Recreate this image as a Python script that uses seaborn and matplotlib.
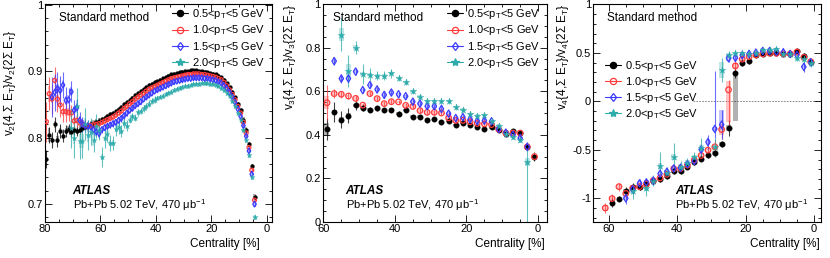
import numpy as np
import matplotlib
matplotlib.use("Agg")
import matplotlib.pyplot as plt
import seaborn as sns
from matplotlib.lines import Line2D
from matplotlib.ticker import MultipleLocator, FuncFormatter

nan = np.nan

# ---------------- data ----------------
labels = [r"0.5<p$_{\mathrm{T}}$<5 GeV", r"1.0<p$_{\mathrm{T}}$<5 GeV",
          r"1.5<p$_{\mathrm{T}}$<5 GeV", r"2.0<p$_{\mathrm{T}}$<5 GeV"]

# panel 1 : v2 ratio, 1% centrality bins (79.5 ... 4.5)
cent1 = np.arange(79.5, 4.0, -1.0)
v2_black = [0.768, 0.804, 0.797, 0.820, 0.797, 0.810, 0.803, 0.810, 0.813, 0.809,
            0.811, 0.810, 0.812, 0.815, 0.816, 0.818, 0.820, 0.821, 0.823, 0.825,
            0.828, 0.830, 0.832, 0.835, 0.837, 0.840, 0.843, 0.846, 0.850, 0.853,
            0.857, 0.860, 0.864, 0.867, 0.870, 0.873, 0.876, 0.879, 0.881, 0.883,
            0.885, 0.887, 0.889, 0.891, 0.893, 0.895, 0.896, 0.897, 0.898, 0.899,
            0.900, 0.900, 0.901, 0.901, 0.901, 0.900, 0.900, 0.899, 0.898, 0.897,
            0.896, 0.895, 0.893, 0.891, 0.887, 0.882, 0.876, 0.869, 0.861, 0.851,
            0.841, 0.827, 0.812, 0.790, 0.757, 0.711]
v2_red = [0.824, 0.866, 0.858, 0.886, 0.858, 0.849, 0.839, 0.839, 0.838, 0.837,
          0.825, 0.826, 0.822, 0.820, 0.818, 0.817, 0.818, 0.819, 0.820, 0.821,
          0.823, 0.825, 0.827, 0.829, 0.831, 0.834, 0.837, 0.840, 0.844, 0.847,
          0.851, 0.854, 0.858, 0.861, 0.864, 0.867, 0.870, 0.873, 0.875, 0.877,
          0.879, 0.881, 0.883, 0.885, 0.887, 0.889, 0.890, 0.891, 0.892, 0.893,
          0.894, 0.895, 0.895, 0.896, 0.896, 0.896, 0.895, 0.895, 0.894, 0.893,
          0.892, 0.891, 0.889, 0.887, 0.883, 0.878, 0.872, 0.865, 0.857, 0.847,
          0.837, 0.823, 0.807, 0.785, 0.751, 0.706]
v2_blue = [nan, nan, 0.861, 0.868, 0.874, 0.871, 0.879, 0.856, 0.857, 0.869,
           0.841, 0.845, 0.826, 0.820, 0.818, 0.817, 0.816, 0.812, 0.809, 0.806,
           0.812, 0.815, 0.817, 0.819, 0.821, 0.823, 0.826, 0.829, 0.833, 0.837,
           0.841, 0.844, 0.848, 0.851, 0.854, 0.858, 0.861, 0.864, 0.867, 0.870,
           0.872, 0.874, 0.876, 0.878, 0.880, 0.882, 0.884, 0.885, 0.886, 0.887,
           0.888, 0.889, 0.889, 0.890, 0.890, 0.890, 0.890, 0.889, 0.889, 0.888,
           0.887, 0.886, 0.884, 0.882, 0.878, 0.874, 0.868, 0.861, 0.853, 0.843,
           0.832, 0.818, 0.802, 0.780, 0.745, 0.700]
v2_teal = [nan, nan, nan, nan, nan, nan, nan, nan, nan, 0.815,
           0.800, 0.847, 0.795, 0.795, 0.820, 0.804, 0.809, 0.797, 0.818, 0.812,
           0.771, 0.799, 0.806, 0.792, 0.792, 0.813, 0.816, 0.810, 0.822, 0.818,
           0.827, 0.832, 0.830, 0.838, 0.840, 0.844, 0.847, 0.851, 0.855, 0.857,
           0.859, 0.861, 0.863, 0.865, 0.867, 0.869, 0.871, 0.873, 0.875, 0.876,
           0.877, 0.878, 0.879, 0.880, 0.881, 0.881, 0.882, 0.882, 0.882, 0.881,
           0.880, 0.879, 0.877, 0.874, 0.871, 0.867, 0.862, 0.855, 0.847, 0.837,
           0.826, 0.812, 0.796, 0.774, 0.740, 0.680]
v2_err_black = ([0.014, 0.012, 0.012, 0.011, 0.011, 0.010, 0.010, 0.009, 0.008, 0.008,
                 0.007, 0.007, 0.006, 0.006, 0.005, 0.005, 0.005, 0.004, 0.004, 0.004]
                + [0.003] * 20 + [0.002] * 30 + [0.003] * 6)
v2_err_red = ([0.030, 0.025, 0.022, 0.020, 0.020, 0.018, 0.015, 0.015, 0.013, 0.012,
               0.011, 0.010, 0.009, 0.008, 0.007, 0.007, 0.006, 0.006, 0.005, 0.005]
              + [0.003] * 56)
v2_err_blue = ([0.0, 0.0, 0.030, 0.028, 0.025, 0.022, 0.020, 0.020, 0.018, 0.016,
                0.015, 0.013, 0.012, 0.011, 0.010, 0.009, 0.008, 0.008, 0.007, 0.007]
               + [0.005] * 10 + [0.003] * 46)
v2_err_teal = ([0.0] * 9 + [0.030,
                0.030, 0.028, 0.027, 0.025, 0.024, 0.022, 0.020, 0.019, 0.018, 0.016,
                0.015, 0.014, 0.013, 0.012, 0.011, 0.010, 0.010, 0.009, 0.008, 0.008]
               + [0.005] * 10 + [0.003] * 36)
v2_sys_black = [0.010] * 2 + [0.005] * 18 + [0.002] * 50 + [0.004] * 6
v2_sys_red = [0.012] * 2 + [0.006] * 18 + [0.002] * 50 + [0.004] * 6
v2_sys_blue = [0.0] * 2 + [0.007] * 18 + [0.002] * 50 + [0.004] * 6
v2_sys_teal = [0.0] * 9 + [0.010] * 11 + [0.004] * 10 + [0.002] * 40 + [0.004] * 6

# panel 2 : v3 ratio, 2% centrality bins (59 ... 1)
cent2 = np.arange(59.0, 0.0, -2.0)
v3_black = [0.425, 0.505, 0.470, 0.488, 0.535, 0.523, 0.515, 0.521, 0.514, 0.515,
            0.497, 0.513, 0.483, 0.483, 0.469, 0.473, 0.459, 0.465, 0.445, 0.456,
            0.447, 0.437, 0.425, 0.434, 0.424, 0.405, 0.416, 0.408, 0.345, 0.300]
v3_red = [0.547, 0.589, 0.586, 0.578, 0.567, 0.536, 0.589, 0.566, 0.543, 0.552,
          0.551, 0.535, 0.530, 0.511, 0.503, 0.503, 0.500, 0.478, 0.466, 0.466,
          0.460, 0.452, 0.450, 0.447, 0.425, 0.408, 0.408, 0.408, 0.345, 0.300]
v3_blue = [nan, 0.738, 0.658, 0.658, 0.690, 0.605, 0.628, 0.608, 0.583, 0.594,
           0.586, 0.577, 0.552, 0.543, 0.531, 0.531, 0.519, 0.497, 0.477, 0.481,
           0.471, 0.463, 0.465, 0.462, 0.427, 0.410, 0.400, 0.385, 0.345, nan]
v3_teal = [nan, nan, 0.860, 0.693, 0.800, 0.679, 0.676, 0.672, 0.672, 0.682,
           0.661, 0.643, 0.600, 0.575, 0.555, 0.555, 0.555, 0.555, 0.528, 0.516,
           0.495, 0.488, 0.490, 0.463, 0.442, 0.405, 0.392, 0.378, 0.275, nan]
v3_err_black = [0.050, 0.045, 0.040, 0.035, 0.020, 0.015, 0.012, 0.012, 0.010, 0.010,
                0.010, 0.010, 0.009, 0.009, 0.008, 0.008, 0.008, 0.008, 0.008, 0.008,
                0.008, 0.008, 0.008, 0.008, 0.008, 0.010, 0.010, 0.012, 0.015, 0.020]
v3_err_red = [0.080, 0.020, 0.015, 0.015, 0.015, 0.012] + [0.010] * 24
v3_err_blue = [0.0, 0.020, 0.020, 0.020, 0.015, 0.015] + [0.012] * 22 + [0.020, 0.0]
v3_err_teal_lo = ([0.0, 0.0, 0.075, 0.075, 0.030, 0.045, 0.030, 0.020, 0.020, 0.020,
                   0.015, 0.015] + [0.012] * 16 + [0.275, 0.0])
v3_err_teal_hi = ([0.0, 0.0, 0.075, 0.075, 0.030, 0.045, 0.030, 0.020, 0.020, 0.020,
                   0.015, 0.015] + [0.012] * 16 + [0.060, 0.0])
v3_sys_black = [0.030, 0.010, 0.010, 0.010] + [0.006] * 26
v3_sys_red = [0.030] + [0.006] * 29
v3_sys_blue = [0.006] * 30
v3_sys_teal = [0.0, 0.0, 0.030, 0.030, 0.010, 0.010] + [0.006] * 22 + [0.020, 0.0]

# panel 3 : v4 ratio, 2% centrality bins (61 ... 1)
cent3 = np.arange(61.0, 0.0, -2.0)
v4_black = [nan, -1.045, -1.003, -0.921, -0.880, -0.880, -0.853, -0.818, -0.800, -0.774,
            -0.716, -0.716, -0.675, -0.630, -0.592, -0.558, -0.531, -0.440, -0.274, 0.298,
            0.400, 0.420, 0.479, 0.486, 0.497, 0.503, 0.490, 0.493, 0.517, 0.466, 0.407]
v4_red = [-1.100, -1.003, -0.880, -0.950, -0.897, -0.880, -0.853, -0.818, -0.790, -0.753,
          -0.695, -0.692, -0.658, -0.606, -0.558, -0.503, -0.469, -0.290, 0.120, 0.366,
          0.435, 0.462, 0.479, 0.490, 0.497, 0.497, 0.490, 0.490, 0.510, 0.455, 0.410]
v4_blue = [nan, nan, nan, -1.000, -0.907, -0.846, -0.836, -0.818, -0.746, -0.726,
           -0.692, -0.685, -0.647, -0.616, -0.497, -0.420, -0.284, -0.240, 0.445, 0.449,
           0.476, 0.490, 0.503, 0.520, 0.520, 0.514, 0.507, 0.490, 0.479, 0.356, 0.404]
v4_teal = [nan, nan, nan, nan, -0.930, nan, -0.897, -0.818, -0.664, -0.736,
           -0.572, -0.675, -0.634, -0.579, -0.479, nan, -0.476, 0.325, 0.479, 0.497,
           0.497, 0.490, 0.503, 0.531, 0.534, 0.541, 0.490, 0.490, 0.445, 0.435, 0.394]
v4_err_black = [0.0, 0.050, 0.030, 0.040, 0.040, 0.035, 0.035, 0.030, 0.030, 0.030,
                0.030, 0.030, 0.025, 0.025, 0.025, 0.025, 0.030, 0.030, 0.080, 0.060,
                0.040, 0.030, 0.020, 0.020, 0.020, 0.020, 0.020, 0.020, 0.020, 0.030, 0.030]
v4_err_red_lo = [0.050, 0.050, 0.040, 0.040, 0.040, 0.035, 0.035, 0.030, 0.030, 0.030,
                 0.030, 0.030, 0.030, 0.030, 0.030, 0.030, 0.080, 0.100, 0.380, 0.060,
                 0.040, 0.030, 0.020, 0.020, 0.020, 0.020, 0.020, 0.020, 0.020, 0.030, 0.030]
v4_err_red_hi = [0.050, 0.050, 0.040, 0.040, 0.040, 0.035, 0.035, 0.030, 0.030, 0.030,
                 0.030, 0.030, 0.030, 0.030, 0.030, 0.030, 0.080, 0.100, 0.100, 0.060,
                 0.040, 0.030, 0.020, 0.020, 0.020, 0.020, 0.020, 0.020, 0.020, 0.030, 0.030]
v4_err_blue_lo = [0.0, 0.0, 0.0, 0.060, 0.050, 0.050, 0.040, 0.040, 0.040, 0.040,
                  0.040, 0.040, 0.035, 0.040, 0.060, 0.070, 0.090, 0.150, 0.040, 0.030,
                  0.030, 0.030, 0.020, 0.020, 0.020, 0.020, 0.020, 0.020, 0.030, 0.050, 0.030]
v4_err_blue_hi = [0.0, 0.0, 0.0, 0.060, 0.050, 0.050, 0.040, 0.040, 0.040, 0.040,
                  0.040, 0.040, 0.035, 0.040, 0.060, 0.070, 0.600, 0.150, 0.040, 0.030,
                  0.030, 0.030, 0.020, 0.020, 0.020, 0.020, 0.020, 0.020, 0.030, 0.050, 0.030]
v4_err_teal = [0.0, 0.0, 0.0, 0.0, 0.080, 0.0, 0.080, 0.060, 0.140, 0.060,
               0.140, 0.060, 0.050, 0.060, 0.100, 0.0, 0.100, 0.120, 0.040, 0.030,
               0.030, 0.030, 0.020, 0.020, 0.020, 0.020, 0.020, 0.020, 0.030, 0.040, 0.040]
v4_sys_black_lo = [0.0] + [0.020] * 17 + [0.030, 0.500] + [0.015] * 11
v4_sys_black_hi = [0.0] + [0.020] * 17 + [0.030, 0.010] + [0.015] * 11
v4_sys_red_lo = [0.030] + [0.020] * 16 + [0.060, 0.330, 0.030] + [0.015] * 11
v4_sys_red_hi = [0.030] + [0.020] * 16 + [0.060, 0.090, 0.030] + [0.015] * 11
v4_sys_blue_lo = [0.0] * 3 + [0.020] * 14 + [0.060, 0.030] + [0.015] * 12
v4_sys_blue_hi = [0.0] * 3 + [0.020] * 14 + [0.150, 0.030] + [0.015] * 12
v4_sys_teal = [0.0] * 4 + [0.030] * 13 + [0.080, 0.020] + [0.015] * 12

# ---------------- style ----------------
sns.set_theme(style="ticks")
plt.rcParams.update({
    "font.family": ["Liberation Sans", "DejaVu Sans"],
    "mathtext.fontset": "custom",
    "mathtext.rm": "Liberation Sans",
    "mathtext.it": "Liberation Sans:italic",
    "mathtext.bf": "Liberation Sans:bold",
    "axes.linewidth": 0.8,
    "axes.edgecolor": "black",
    "xtick.color": "black",
    "ytick.color": "black",
    "text.color": "black",
    "axes.labelcolor": "black",
})

COLORS = ["#000000", "#ff3b3b", "#3b3bff", "#2eabab"]
MARKERS = ["o", "o", "d", "*"]
FILLED = [True, False, False, True]


def lohi(v):
    if isinstance(v, tuple):
        return np.asarray(v[0], dtype=float), np.asarray(v[1], dtype=float)
    a = np.asarray(v, dtype=float)
    return a, a


fig = plt.figure(figsize=(8.3, 2.58), dpi=100)
ax1 = fig.add_axes([0.0542, 0.1395, 0.2735, 0.845])
ax2 = fig.add_axes([0.3888, 0.1395, 0.2702, 0.845])
ax3 = fig.add_axes([0.7148, 0.1395, 0.2743, 0.845])

panels = [
    (ax1, cent1, [v2_black, v2_red, v2_blue, v2_teal],
     [v2_err_black, v2_err_red, v2_err_blue, v2_err_teal],
     [v2_sys_black, v2_sys_red, v2_sys_blue, v2_sys_teal], 0.8, [8, 8, 9, 16]),
    (ax2, cent2, [v3_black, v3_red, v3_blue, v3_teal],
     [v3_err_black, v3_err_red, v3_err_blue, (v3_err_teal_lo, v3_err_teal_hi)],
     [v3_sys_black, v3_sys_red, v3_sys_blue, v3_sys_teal], 1.4, [16, 16, 14, 26]),
    (ax3, cent3, [v4_black, v4_red, v4_blue, v4_teal],
     [v4_err_black, (v4_err_red_lo, v4_err_red_hi), (v4_err_blue_lo, v4_err_blue_hi),
      v4_err_teal],
     [(v4_sys_black_lo, v4_sys_black_hi), (v4_sys_red_lo, v4_sys_red_hi),
      (v4_sys_blue_lo, v4_sys_blue_hi), v4_sys_teal], 1.4, [16, 16, 14, 26]),
]

for ax, cent, ys, errs, syss, bw, sizes in panels:
    for k in range(4):
        y = np.asarray(ys[k], dtype=float)
        elo, ehi = lohi(errs[k])
        slo, shi = lohi(syss[k])
        ok = ~np.isnan(y)
        col = COLORS[k]
        okb = ok & ((slo + shi) > 0)
        ax.bar(cent[okb], slo[okb] + shi[okb], bottom=y[okb] - slo[okb], width=bw,
               color=col, alpha=0.3, linewidth=0, zorder=1 + k * 0.01)
        oke = ok & ((elo + ehi) > 0)
        ax.errorbar(cent[oke], y[oke], yerr=[elo[oke], ehi[oke]], fmt="none", ecolor=col,
                    elinewidth=0.8, alpha=0.75, capsize=0, zorder=2)
        fc = col if FILLED[k] else "none"
        sns.scatterplot(x=cent[ok], y=y[ok], ax=ax, marker=MARKERS[k], s=sizes[k],
                        color=col, facecolor=fc, edgecolor=col,
                        linewidth=0.2 if FILLED[k] else 0.9, zorder=3 + k * 0.1,
                        legend=False)

# axes ranges, ticks
ax1.set_xlim(80, -1.8)
ax1.set_ylim(0.673, 1.001)
ax2.set_xlim(60.2, -2.5)
ax2.set_ylim(0.0, 1.0)
ax3.set_xlim(64.5, -2.0)
ax3.set_ylim(-1.245, 1.005)

fmt = FuncFormatter(lambda v, p: f"{v:g}")
for ax, ymaj, ymin in [(ax1, 0.1, 0.02), (ax2, 0.2, 0.05), (ax3, 0.5, 0.1)]:
    ax.xaxis.set_major_locator(MultipleLocator(20))
    ax.xaxis.set_minor_locator(MultipleLocator(5))
    ax.yaxis.set_major_locator(MultipleLocator(ymaj))
    ax.yaxis.set_minor_locator(MultipleLocator(ymin))
    ax.xaxis.set_major_formatter(fmt)
    ax.yaxis.set_major_formatter(fmt)
    ax.tick_params(which="both", direction="in", top=True, right=True,
                   labelsize=8, width=0.6, pad=1.5)
    ax.tick_params(which="major", length=5)
    ax.tick_params(which="minor", length=2.5)
    for sp in ax.spines.values():
        sp.set_visible(True)
        sp.set_linewidth(0.8)
    ax.set_xlabel("Centrality [%]", fontsize=8.5, loc="right")
    ax.xaxis.label.set_va("center")

ax3.hlines(0.0, 35.5, -2.0, colors="#777777", linestyles=(0, (2, 1.5)), linewidth=0.6,
           zorder=0.5)

ax1.xaxis.set_label_coords(0.947, -0.10)
ax2.xaxis.set_label_coords(0.991, -0.10)
ax3.xaxis.set_label_coords(0.996, -0.10)

ax1.set_ylabel("v$_{2}${4,Σ E$_{\\mathrm{T}}$}/v$_{2}${2Σ E$_{\\mathrm{T}}$}", fontsize=8.5)
ax2.set_ylabel("v$_{3}${4,Σ E$_{\\mathrm{T}}$}/v$_{3}${2Σ E$_{\\mathrm{T}}$}", fontsize=8.5)
ax3.set_ylabel("v$_{4}${4,Σ E$_{\\mathrm{T}}$}/v$_{4}${2Σ E$_{\\mathrm{T}}$}", fontsize=8.5)
for ax, (lx, ly) in [(ax1, (-0.154, 0.638)), (ax2, (-0.146, 0.757)), (ax3, (-0.132, 0.757))]:
    ax.yaxis.set_label_coords(lx, ly)
    ax.yaxis.label.set_va("center")

# annotations
for ax, sx, ax_x in [(ax1, 0.062, 0.122), (ax2, 0.045, 0.102), (ax3, 0.059, 0.359)]:
    ax.text(sx, 0.936, "Standard method", transform=ax.transAxes, fontsize=8.5,
            ha="left", va="center")
    ax.text(ax_x, 0.1436, "ATLAS", transform=ax.transAxes, fontsize=8.5,
            fontweight="bold", fontstyle="italic", ha="left", va="center")
    ax.text(ax_x, 0.078, "Pb+Pb 5.02 TeV, 470 μb$^{\\mathrm{-1}}$", transform=ax.transAxes,
            fontsize=8, ha="left", va="center")

# legends
handles = []
for k in range(4):
    handles.append(Line2D([0], [0], color=COLORS[k], marker=MARKERS[k], lw=0.8,
                          markersize=4.5 if k != 3 else 6,
                          markerfacecolor=COLORS[k] if FILLED[k] else "none",
                          markeredgecolor=COLORS[k], markeredgewidth=0.9))
for ax, anchor in [(ax1, (0.559, 0.985)), (ax2, (0.553, 0.985)), (ax3, (0.051, 0.75))]:
    ax.legend(handles, labels, loc="upper left", bbox_to_anchor=anchor, frameon=False,
              fontsize=8, handlelength=1.45, handletextpad=0.35, labelspacing=0.2,
              borderpad=0.0, borderaxespad=0.0)

fig.savefig("out.png", dpi=100)
